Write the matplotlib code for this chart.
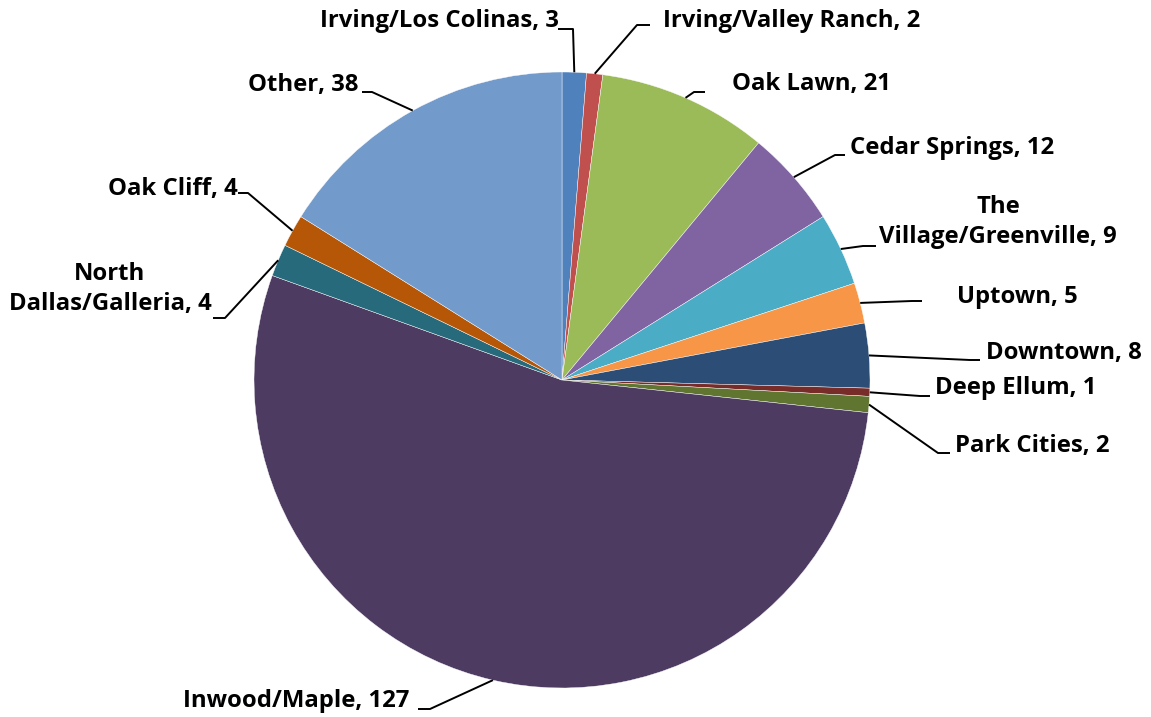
import numpy as np
import matplotlib
matplotlib.use("Agg")
import matplotlib.pyplot as plt

# ---- data ----
categories = ["Irving/Los Colinas", "Irving/Valley Ranch", "Oak Lawn", "Cedar Springs",
              "The\nVillage/Greenville", "Uptown", "Downtown", "Deep Ellum", "Park Cities",
              "Inwood/Maple", "North\nDallas/Galleria", "Oak Cliff", "Other"]
values = [3, 2, 21, 12, 9, 5, 8, 1, 2, 127, 4, 4, 38]
colors = ["#4F81BD", "#C0504D", "#9BBB59", "#8064A2", "#4BACC6", "#F79646", "#2C4D75",
          "#772C2A", "#5F7530", "#4D3B62", "#276A7C", "#B65708", "#729ACA"]

# ---- layout (figure pixels, y down) ----
W, H = 1151, 717
CX, CY, R = 562, 380, 308
# text anchor: (x, y, ha)
text_pos = [(320, 21, "left"), (663, 21, "left"), (732, 84, "left"), (850, 148, "left"),
            (998, 222, "center"), (957, 297, "left"), (986, 353, "left"), (935, 388, "left"),
            (955, 446, "left"), (183, 701, "left"), (110, 289, "center"), (108, 189, "left"),
            (248, 85, "left")]
# leader knee and end points
leader = [((573, 29), (558, 29)), ((637, 25), (650, 25)), ((694, 92), (705, 92)),
          ((835, 155), (845, 155)), ((863, 246), (876, 246)), ((912, 301), (922, 301)),
          ((970, 360), (980, 360)), ((920, 396), (930, 396)), ((938, 453), (950, 453)),
          ((430, 709), (418, 709)), ((225, 318), (213, 318)), ((248, 193), (238, 193)),
          ((372, 92), (362, 92))]

fig = plt.figure(figsize=(W / 100, H / 100), dpi=100)
fig.patch.set_facecolor("white")

ax = fig.add_axes([(CX - R) / W, 1 - (CY + R) / H, 2 * R / W, 2 * R / H])
wedges, _ = ax.pie(values, colors=colors, startangle=90, counterclock=False, radius=1,
                   wedgeprops=dict(edgecolor="white", linewidth=0.3))
ax.set_xlim(-1, 1)
ax.set_ylim(-1, 1)
ax.set_aspect("equal")
ax.axis("off")

ov = fig.add_axes([0, 0, 1, 1], facecolor="none")
ov.set_xlim(0, W)
ov.set_ylim(H, 0)
ov.axis("off")

for i, (cat, v) in enumerate(zip(categories, values)):
    w = wedges[i]
    mid = np.deg2rad((w.theta1 + w.theta2) / 2)
    ex = CX + R * np.cos(mid)
    ey = CY - R * np.sin(mid)
    (kx, ky), (lx, ly) = leader[i]
    ov.plot([ex, kx, lx], [ey, ky, ly], color="black", lw=1.4, solid_capstyle="butt")
    tx, ty, ha = text_pos[i]
    ov.text(tx, ty, f"{cat}, {v}", ha=ha, va="center", multialignment="center",
            fontsize=17.2, fontweight="bold", family="Open Sans", linespacing=1.38)

fig.savefig("out.png", dpi=100, facecolor="white")
